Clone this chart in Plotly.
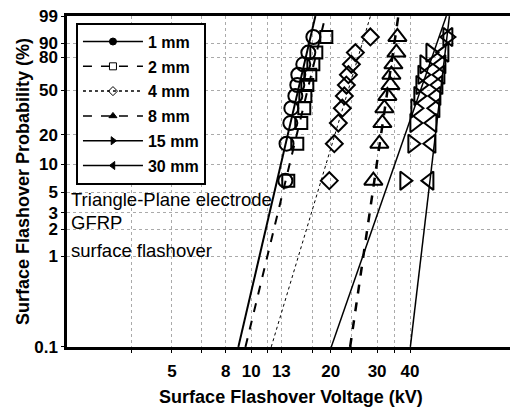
import numpy as np
import plotly.graph_objects as go

# ---------------- data ----------------
rank_prob = [6.7, 16.3, 26.0, 35.6, 45.2, 54.8, 64.4, 74.0, 83.7, 93.3]   # median ranks (%)
series_names = ["1 mm", "2 mm", "4 mm", "8 mm", "15 mm", "30 mm"]
v_1mm = [13.46, 13.6, 14.06, 14.18, 14.69, 14.94, 15.07, 15.74, 16.45, 17.19]
v_2mm = [13.81, 14.94, 15.47, 15.88, 16.03, 16.31, 16.74, 17.19, 17.64, 19.25]
v_4mm = [19.76, 20.64, 21.38, 22.14, 22.53, 22.93, 23.34, 23.96, 24.81, 28.28]
v_8mm = [29.03, 30.59, 31.41, 31.96, 32.81, 33.69, 33.98, 34.58, 35.5, 35.81]
v_15mm = [38.05, 40.81, 41.53, 41.9, 43.0, 43.77, 44.54, 45.33, 47.77, 55.4]
v_30mm = [47.35, 48.19, 48.6, 49.89, 50.33, 51.22, 52.12, 52.58, 53.97, 55.88]

# Weibull fit lines: voltage at 0.1 % and at 99 %
fit_prob = [0.1, 99]
fit_1mm = [8.93, 17.5]
fit_2mm = [9.5, 19.1]
fit_4mm = [11.9, 28.3]
fit_8mm = [23.7, 36.1]
fit_15mm = [20.1, 54.9]
fit_30mm = [40.1, 56.4]

y_tick_vals = [0.1, 1, 2, 3, 5, 10, 20, 50, 80, 90, 99]
y_tick_text = ["0.1", "1", "2", "3", "5", "10", "20", "50", "80", "90", "99"]
x_grid_vals = [3.5, 5, 6.5, 8, 10, 11.5, 13, 17, 20, 24, 30, 35, 40]
x_tick_labels = {5: "5", 8: "8", 10: "10", 13: "13", 20: "20", 30: "30", 40: "40"}

annot_texts = ["Triangle-Plane electrode", "GFRP", "surface flashover"]


def weib(p):
    p = np.asarray(p, dtype=float) / 100.0
    return np.log(-np.log(1.0 - p))


values = [v_1mm, v_2mm, v_4mm, v_8mm, v_15mm, v_30mm]
fits = [fit_1mm, fit_2mm, fit_4mm, fit_8mm, fit_15mm, fit_30mm]
dashes = ["solid", "dash", "dot", "dash", "solid", "solid"]
lwidths = [2, 2, 1, 2.5, 1.5, 1.5]
symbols = ["circle-open", "square-open", "diamond-open", "triangle-up-open",
           "triangle-right-open", "triangle-left-open"]
msizes = [14, 12, 13, 16, 16, 16]
leg_symbols = ["circle", "square-open", "diamond-open", "triangle-up",
               "triangle-right", "triangle-left"]

fig = go.Figure()
for i, name in enumerate(series_names):
    fig.add_trace(go.Scatter(
        x=fits[i], y=weib(fit_prob), mode="lines",
        line=dict(color="black", width=lwidths[i], dash=dashes[i]),
        showlegend=False, hoverinfo="skip", cliponaxis=True))
    fig.add_trace(go.Scatter(
        x=values[i], y=weib(rank_prob), mode="markers",
        marker=dict(symbol=symbols[i], size=msizes[i], color="black",
                    line=dict(color="black", width=2)),
        showlegend=False, name=name))
    fig.add_trace(go.Scatter(
        x=[None], y=[None], mode="lines+markers", name=name,
        legendgroup=name,
        line=dict(color="black", width=1.5, dash=dashes[i]),
        marker=dict(symbol=leg_symbols[i], size=7, color="black",
                    line=dict(color="black", width=1))))

grid_ticktext = [x_tick_labels.get(v, "") for v in x_grid_vals]
y_lo = float(weib(0.1)) - 0.002
y_hi = float(weib(99)) + 0.002

# the page body adds an 8 px margin, so the figure is 8 px smaller each way
fig.update_layout(
    width=510, height=399,
    margin=dict(l=59, r=3, t=8, b=60, autoexpand=False),
    paper_bgcolor="white", plot_bgcolor="white",
    font=dict(family="Liberation Sans, Arial, sans-serif", color="black", size=16),
    showlegend=True,
    legend=dict(x=0.02, y=0.98, xanchor="left", yanchor="top",
                bgcolor="white", bordercolor="black", borderwidth=2,
                font=dict(size=16, weight="bold"),
                traceorder="grouped", tracegroupgap=1, itemwidth=60),
    xaxis=dict(type="log", range=[np.log10(2), np.log10(100)], automargin=False,
               tickmode="array", tickvals=x_grid_vals, ticktext=grid_ticktext,
               tickfont=dict(size=17, weight="bold"), ticklabelstandoff=4,
               ticklabeloverflow="allow",
               showgrid=True, gridcolor="#aaa", griddash="dot", gridwidth=1,
               showline=True, linecolor="black", linewidth=2.5, mirror=True,
               ticks="outside", ticklen=3, tickcolor="black",
               zeroline=False,
               title=dict(text="Surface Flashover Voltage (kV)",
                          font=dict(size=18, weight="bold"), standoff=14)),
    yaxis=dict(range=[y_lo, y_hi], automargin=False,
               tickmode="array", tickvals=list(weib(y_tick_vals)), ticktext=y_tick_text,
               tickfont=dict(size=17, weight="bold"), ticklabeloverflow="allow",
               showgrid=True, gridcolor="#aaa", griddash="dot", gridwidth=1,
               showline=True, linecolor="black", linewidth=2.5, mirror=True,
               ticks="outside", ticklen=3, tickcolor="black",
               zeroline=False,
               title=dict(text="Surface Flashover Probability (%)",
                          font=dict(size=18, weight="bold"), standoff=0)),
)

ann_y = [0.447, 0.375, 0.293]
for t, yy in zip(annot_texts, ann_y):
    fig.add_annotation(text=t, xref="paper", yref="paper", x=0.005, y=yy,
                       xanchor="left", yanchor="middle", showarrow=False,
                       font=dict(size=18.5, color="black"))

fig.write_html("out.html")
